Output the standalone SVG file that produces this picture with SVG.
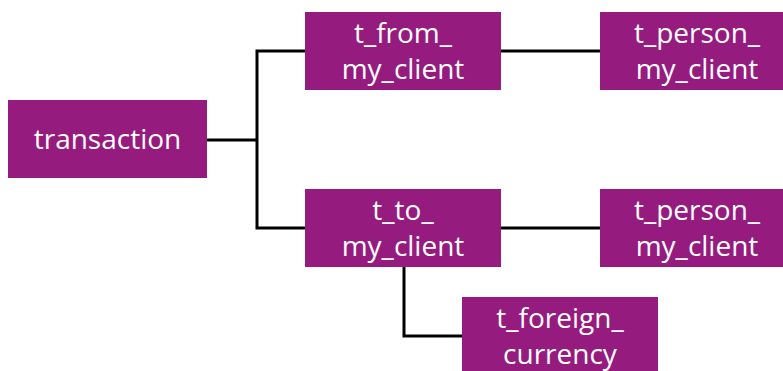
<svg xmlns="http://www.w3.org/2000/svg" width="783" height="371" viewBox="0 0 783 371">
<style>
.box{fill:#951b7f}
.lbl{fill:#ffffff;font-family:"Open Sans","Liberation Sans",sans-serif;font-size:28px;text-anchor:middle}
.conn{fill:none;stroke:#000000;stroke-width:3}
</style>
<rect width="783" height="371" fill="#ffffff"/>
<g id="connectors">
<polyline class="conn" points="207,140 257,140"/>
<polyline class="conn" points="305,51 257,51 257,228 305,228"/>
<polyline class="conn" points="501,51 600,51"/>
<polyline class="conn" points="501,228 600,228"/>
<polyline class="conn" points="404,267 404,336 462,336"/>
</g>
<g id="transaction">
<rect class="box" x="8" y="100" width="199" height="78"/>
<text class="lbl" x="107.5" y="149">transaction</text>
</g>
<g id="t_from_my_client">
<rect class="box" x="305" y="12" width="196" height="78"/>
<text class="lbl" x="403" y="43">t_from_</text>
<text class="lbl" x="403" y="79">my_client</text>
</g>
<g id="t_person_my_client_1">
<rect class="box" x="600" y="12" width="183" height="78"/>
<text class="lbl" x="697" y="43">t_person_</text>
<text class="lbl" x="697" y="79">my_client</text>
</g>
<g id="t_to_my_client">
<rect class="box" x="305" y="189" width="196" height="78"/>
<text class="lbl" x="403" y="220">t_to_</text>
<text class="lbl" x="403" y="256">my_client</text>
</g>
<g id="t_person_my_client_2">
<rect class="box" x="600" y="189" width="183" height="78"/>
<text class="lbl" x="697" y="220">t_person_</text>
<text class="lbl" x="697" y="256">my_client</text>
</g>
<g id="t_foreign_currency">
<rect class="box" x="462" y="297" width="196" height="78"/>
<text class="lbl" x="560" y="328">t_foreign_</text>
<text class="lbl" x="560" y="364">currency</text>
</g>
</svg>
